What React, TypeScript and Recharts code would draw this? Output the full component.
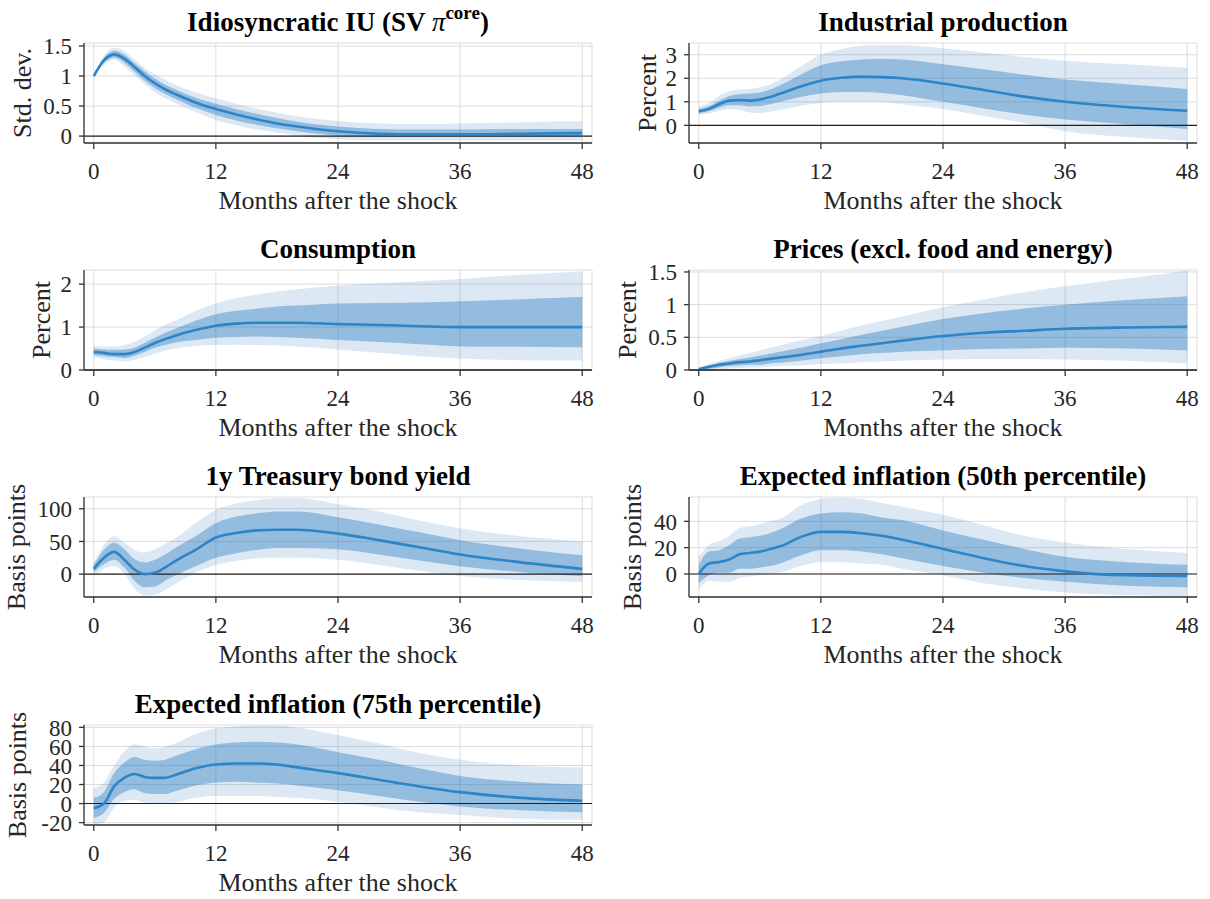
import React from "react";
import {
  ComposedChart,
  Area,
  Line,
  XAxis,
  YAxis,
  CartesianGrid,
  ReferenceLine,
} from "recharts";

const months = [0, 1, 2, 3, 4, 5, 6, 7, 8, 10, 12, 14, 16, 18, 20, 24, 28, 32, 36, 42, 48];
const xTicks = [0, 12, 24, 36, 48];

// Idiosyncratic IU (SV pi core)
const iuMed = [1.0, 1.26, 1.36, 1.29, 1.15, 1.0, 0.88, 0.78, 0.7, 0.56, 0.45, 0.36, 0.28, 0.21, 0.16, 0.08, 0.04, 0.03, 0.03, 0.04, 0.05];
const iuLo68 = [1.0, 1.22, 1.31, 1.22, 1.07, 0.92, 0.8, 0.7, 0.62, 0.47, 0.35, 0.26, 0.19, 0.13, 0.08, 0.01, -0.01, -0.01, 0.0, 0.0, 0.0];
const iuHi68 = [1.0, 1.3, 1.42, 1.36, 1.22, 1.08, 0.96, 0.86, 0.78, 0.64, 0.54, 0.45, 0.37, 0.3, 0.24, 0.16, 0.12, 0.11, 0.11, 0.12, 0.12];
const iuLo90 = [1.0, 1.18, 1.27, 1.16, 1.01, 0.86, 0.73, 0.63, 0.55, 0.4, 0.27, 0.18, 0.11, 0.06, 0.01, -0.05, -0.07, -0.07, -0.07, -0.07, -0.07];
const iuHi90 = [1.0, 1.34, 1.47, 1.42, 1.28, 1.14, 1.03, 0.94, 0.86, 0.73, 0.63, 0.54, 0.46, 0.39, 0.33, 0.25, 0.21, 0.2, 0.21, 0.23, 0.25];

// Industrial production
const ipMed = [0.6, 0.7, 0.9, 1.05, 1.08, 1.05, 1.1, 1.2, 1.35, 1.65, 1.9, 2.02, 2.07, 2.05, 2.0, 1.78, 1.5, 1.22, 1.0, 0.78, 0.62];
const ipLo68 = [0.5, 0.6, 0.75, 0.85, 0.85, 0.8, 0.82, 0.9, 1.0, 1.2, 1.35, 1.42, 1.42, 1.38, 1.28, 1.0, 0.72, 0.45, 0.25, 0.05, -0.15];
const ipHi68 = [0.7, 0.82, 1.05, 1.25, 1.32, 1.35, 1.4, 1.52, 1.7, 2.15, 2.55, 2.72, 2.8, 2.82, 2.8, 2.6, 2.38, 2.15, 1.95, 1.75, 1.55];
const ipLo90 = [0.45, 0.5, 0.62, 0.7, 0.65, 0.55, 0.52, 0.58, 0.65, 0.82, 0.95, 1.0, 1.0, 0.98, 0.9, 0.7, 0.4, 0.1, -0.25, -0.5, -0.65];
const ipHi90 = [0.8, 0.95, 1.25, 1.45, 1.52, 1.55, 1.62, 1.75, 1.95, 2.5, 3.0, 3.25, 3.38, 3.42, 3.42, 3.28, 3.1, 2.9, 2.75, 2.6, 2.45];

// Consumption
const cMed = [0.42, 0.4, 0.37, 0.37, 0.42, 0.52, 0.63, 0.72, 0.8, 0.93, 1.03, 1.08, 1.1, 1.1, 1.1, 1.07, 1.05, 1.02, 1.0, 1.0, 1.0];
const cLo68 = [0.35, 0.32, 0.3, 0.28, 0.33, 0.42, 0.52, 0.58, 0.64, 0.7, 0.75, 0.77, 0.78, 0.77, 0.75, 0.7, 0.65, 0.6, 0.55, 0.54, 0.53];
const cHi68 = [0.5, 0.48, 0.47, 0.48, 0.52, 0.63, 0.75, 0.86, 0.96, 1.15, 1.3, 1.38, 1.43, 1.48, 1.5, 1.55, 1.56, 1.57, 1.6, 1.65, 1.7];
const cLo90 = [0.3, 0.25, 0.22, 0.2, 0.24, 0.3, 0.38, 0.45, 0.5, 0.56, 0.58, 0.59, 0.58, 0.57, 0.55, 0.48, 0.4, 0.32, 0.27, 0.23, 0.22];
const cHi90 = [0.55, 0.55, 0.55, 0.58, 0.65, 0.78, 0.92, 1.05, 1.15, 1.38, 1.55, 1.67, 1.76, 1.83, 1.88, 1.97, 2.02, 2.07, 2.12, 2.22, 2.3];

// Prices (excl. food and energy)
const pMed = [0.01, 0.05, 0.08, 0.1, 0.12, 0.13, 0.15, 0.17, 0.19, 0.23, 0.28, 0.33, 0.37, 0.41, 0.45, 0.52, 0.57, 0.6, 0.63, 0.65, 0.66];
const pLo68 = [0.0, 0.02, 0.04, 0.06, 0.07, 0.08, 0.08, 0.1, 0.11, 0.14, 0.18, 0.21, 0.24, 0.26, 0.28, 0.3, 0.32, 0.33, 0.34, 0.33, 0.3];
const pHi68 = [0.03, 0.07, 0.11, 0.14, 0.17, 0.19, 0.22, 0.25, 0.28, 0.34, 0.41, 0.47, 0.54, 0.6, 0.66, 0.78, 0.87, 0.94, 1.0, 1.07, 1.13];
const pLo90 = [0.0, 0.0, 0.01, 0.02, 0.03, 0.04, 0.04, 0.05, 0.06, 0.07, 0.09, 0.1, 0.12, 0.13, 0.14, 0.16, 0.17, 0.17, 0.16, 0.14, 0.1];
const pHi90 = [0.04, 0.09, 0.14, 0.18, 0.22, 0.26, 0.3, 0.34, 0.38, 0.45, 0.52, 0.6, 0.68, 0.75, 0.82, 0.96, 1.08, 1.19, 1.28, 1.4, 1.52];

// 1y Treasury bond yield
const tMed = [8, 25, 34, 22, 7, 0, 2, 10, 20, 37, 56, 63, 67, 68, 68, 62, 52, 41, 30, 18, 8];
const tLo68 = [3, 15, 22, 10, -10, -20, -19, -10, -2, 12, 25, 32, 37, 40, 40, 38, 30, 21, 12, 3, -3];
const tHi68 = [14, 37, 48, 38, 23, 18, 22, 30, 40, 58, 78, 88, 93, 96, 96, 87, 76, 64, 52, 39, 29];
const tLo90 = [-3, 8, 12, 0, -22, -33, -32, -24, -15, 2, 14, 20, 24, 25, 25, 22, 14, 5, -3, -9, -12];
const tHi90 = [18, 45, 58, 48, 37, 33, 38, 46, 55, 78, 98, 108, 113, 116, 116, 107, 96, 82, 70, 58, 50];

// Expected inflation (50th percentile)
const e50Med = [0, 8, 9, 11, 15, 16, 17, 19, 21, 28, 32, 32, 31, 29, 26, 19, 12, 6, 2, -1, -1.5];
const e50Lo68 = [-7, -1, 1, 1, 4, 4, 5, 6, 8, 14, 18, 18, 17, 15, 12, 6, 1, -3, -6, -9, -10];
const e50Hi68 = [7, 17, 18, 22, 27, 28, 29, 31, 34, 42, 46, 47, 46, 43, 41, 33, 26, 19, 13, 9, 7];
const e50Lo90 = [-12, -5, -6, -6, -3, -2, -1, 0, 1, 6, 9, 9, 8, 7, 4, -1, -7, -11, -14, -16, -17];
const e50Hi90 = [13, 22, 25, 29, 35, 36, 38, 40, 42, 52, 57, 58, 57, 54, 51, 45, 37, 29, 24, 19, 16];

// Expected inflation (75th percentile)
const e75Med = [-5, 0, 18, 27, 31, 28, 27, 27, 30, 37, 41, 42, 42, 41, 38, 32, 25, 18, 12, 6, 3];
const e75Lo68 = [-15, -10, 5, 12, 15, 11, 10, 10, 13, 19, 22, 23, 22, 21, 19, 14, 8, 2, -3, -7, -9];
const e75Hi68 = [6, 12, 32, 43, 49, 46, 45, 46, 50, 57, 62, 64, 65, 64, 62, 54, 46, 37, 29, 23, 20];
const e75Lo90 = [-22, -20, -4, 3, 4, 1, 0, 0, 1, 6, 8, 8, 8, 7, 6, 2, -4, -9, -12, -16, -17];
const e75Hi90 = [16, 22, 40, 55, 62, 60, 58, 60, 63, 73, 79, 81, 82, 82, 80, 72, 63, 53, 46, 40, 38];

const SERIF = '"Liberation Serif", "Times New Roman", serif';
const LINE = "#2b85c8";
const BAND = "#2878be";
const AXIS = "#333333";
const TEXT = "#262626";

const PLOT_W = 508;
const Y_AXIS_W = 84;
const TOP_PAD = 15;
const X_AXIS_H = 80;

function buildRows(med: number[], lo68: number[], hi68: number[], lo90: number[], hi90: number[]) {
  return months.map((m, i) => ({
    m,
    med: med[i],
    b68: [lo68[i], hi68[i]],
    b90: [lo90[i], hi90[i]],
  }));
}

interface PanelProps {
  title: React.ReactNode;
  yLabel: string;
  yLabelX: number;
  col: number;
  row: number;
  domain: [number, number];
  ticks: number[];
  rows: ReturnType<typeof buildRows>;
}

function Panel({ title, yLabel, yLabelX, col, row, domain, ticks, rows }: PanelProps) {
  const colX = col === 0 ? 0 : 605;
  const plotLeft = colX + Y_AXIS_W;
  const plotBottom = 142.7 + row * 227.3;
  const plotTop = plotBottom - 100;

  return (
    <>
      <div
        style={{
          position: "absolute",
          left: plotLeft,
          width: PLOT_W,
          top: plotTop - 34,
          textAlign: "center",
          fontSize: 27,
          lineHeight: "27px",
          fontWeight: "bold",
          whiteSpace: "nowrap",
          color: "#000",
        }}
      >
        {title}
      </div>
      <div style={{ position: "absolute", left: colX, top: plotTop - TOP_PAD }}>
        <ComposedChart
          width={Y_AXIS_W + PLOT_W + 12}
          height={TOP_PAD + 100 + X_AXIS_H}
          data={rows}
          margin={{ top: TOP_PAD, right: 12, bottom: 0, left: 0 }}
        >
          <CartesianGrid stroke="#dcdcdc" strokeWidth={1} />
          <XAxis
            dataKey="m"
            type="number"
            domain={[-0.96, 48.96]}
            ticks={xTicks}
            interval={0}
            height={X_AXIS_H}
            tickSize={6}
            tickMargin={14}
            axisLine={{ stroke: AXIS, strokeWidth: 1.3 }}
            tickLine={{ stroke: AXIS, strokeWidth: 1.3 }}
            tick={{ fontSize: 23, fill: TEXT, fontFamily: SERIF }}
            label={{
              value: "Months after the shock",
              position: "insideBottom",
              offset: 14,
              fontSize: 26,
              fill: TEXT,
              fontFamily: SERIF,
            }}
          />
          <YAxis
            type="number"
            domain={domain}
            ticks={ticks}
            interval={0}
            allowDataOverflow
            width={Y_AXIS_W}
            tickSize={5}
            tickMargin={7}
            axisLine={{ stroke: AXIS, strokeWidth: 1.3 }}
            tickLine={{ stroke: AXIS, strokeWidth: 1.3 }}
            tick={{ fontSize: 23, fill: TEXT, fontFamily: SERIF }}
            label={{
              value: yLabel,
              angle: -90,
              position: "insideLeft",
              offset: yLabelX,
              fontSize: 26,
              fill: TEXT,
              fontFamily: SERIF,
              style: { textAnchor: "middle" },
            }}
          />
          <Area
            dataKey="b90"
            type="monotone"
            stroke="none"
            fill={BAND}
            fillOpacity={0.16}
            isAnimationActive={false}
          />
          <Area
            dataKey="b68"
            type="monotone"
            stroke="none"
            fill={BAND}
            fillOpacity={0.4}
            isAnimationActive={false}
          />
          <ReferenceLine y={0} stroke="#222" strokeWidth={1.1} />
          <Line
            dataKey="med"
            type="monotone"
            stroke={LINE}
            strokeWidth={2.6}
            dot={false}
            isAnimationActive={false}
          />
        </ComposedChart>
      </div>
    </>
  );
}

const iuTitle = (
  <span>
    Idiosyncratic IU (SV <i style={{ fontWeight: "normal" }}>π</i>
    <span style={{ position: "relative", top: -12, fontSize: 19 }}>core</span>)
  </span>
);

export default function App() {
  return (
    <div
      style={{
        position: "absolute",
        left: 0,
        top: 0,
        width: 1210,
        height: 899,
        background: "#fff",
        fontFamily: SERIF,
      }}
    >
      <Panel
        title={iuTitle}
        yLabel="Std. dev."
        yLabelX={22}
        col={0}
        row={0}
        domain={[-0.115, 1.55]}
        ticks={[0, 0.5, 1, 1.5]}
        rows={buildRows(iuMed, iuLo68, iuHi68, iuLo90, iuHi90)}
      />
      <Panel
        title="Industrial production"
        yLabel="Percent"
        yLabelX={42}
        col={1}
        row={0}
        domain={[-0.75, 3.5]}
        ticks={[0, 1, 2, 3]}
        rows={buildRows(ipMed, ipLo68, ipHi68, ipLo90, ipHi90)}
      />
      <Panel
        title="Consumption"
        yLabel="Percent"
        yLabelX={41}
        col={0}
        row={1}
        domain={[0, 2.33]}
        ticks={[0, 1, 2]}
        rows={buildRows(cMed, cLo68, cHi68, cLo90, cHi90)}
      />
      <Panel
        title="Prices (excl. food and energy)"
        yLabel="Percent"
        yLabelX={22}
        col={1}
        row={1}
        domain={[0, 1.53]}
        ticks={[0, 0.5, 1, 1.5]}
        rows={buildRows(pMed, pLo68, pHi68, pLo90, pHi90)}
      />
      <Panel
        title="1y Treasury bond yield"
        yLabel="Basis points"
        yLabelX={16}
        col={0}
        row={2}
        domain={[-35, 118]}
        ticks={[0, 50, 100]}
        rows={buildRows(tMed, tLo68, tHi68, tLo90, tHi90)}
      />
      <Panel
        title="Expected inflation (50th percentile)"
        yLabel="Basis points"
        yLabelX={27}
        col={1}
        row={2}
        domain={[-17.5, 58.5]}
        ticks={[0, 20, 40]}
        rows={buildRows(e50Med, e50Lo68, e50Hi68, e50Lo90, e50Hi90)}
      />
      <Panel
        title="Expected inflation (75th percentile)"
        yLabel="Basis points"
        yLabelX={17}
        col={0}
        row={3}
        domain={[-22.5, 82.5]}
        ticks={[-20, 0, 20, 40, 60, 80]}
        rows={buildRows(e75Med, e75Lo68, e75Hi68, e75Lo90, e75Hi90)}
      />
    </div>
  );
}
